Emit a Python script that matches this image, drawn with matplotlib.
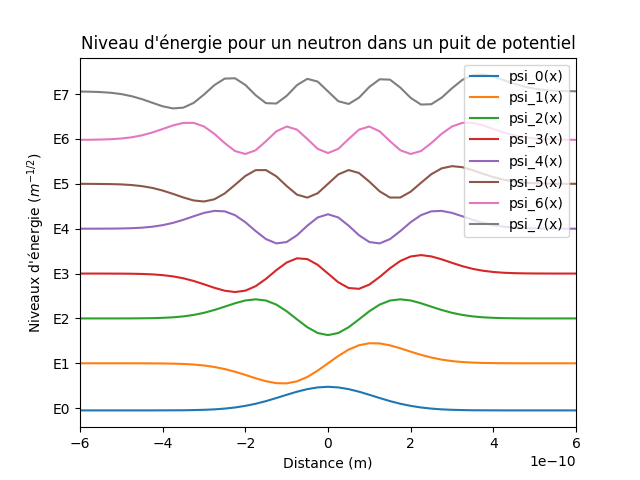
import numpy as np
import matplotlib
matplotlib.use("Agg")
import matplotlib.pyplot as plt

# positive half of the distance axis (units of 1e-10 m), step 0.25
x_half = [0.00, 0.25, 0.50, 0.75, 1.00, 1.25, 1.50, 1.75, 2.00, 2.25, 2.50, 2.75, 3.00,
          3.25, 3.50, 3.75, 4.00, 4.25, 4.50, 4.75, 5.00, 5.25, 5.50, 5.75, 6.00]

psi_0 = [.526, .512, .474, .417, .348, .276, .207, .148, .101, .065, .040, .023, .013,
         .007, .003, .002, .001, 0, 0, 0, 0, 0, 0, 0, 0]
psi_1 = [0, .164, .305, .402, .447, .443, .400, .334, .259, .188, .128, .082, .049,
         .028, .015, .008, .004, .002, .001, 0, 0, 0, 0, 0, 0]
psi_2 = [-.372, -.325, -.196, -.021, .160, .308, .399, .426, .400, .338, .262, .188, .125,
         .078, .045, .025, .013, .006, .003, .001, 0, 0, 0, 0, 0]
psi_3 = [0, -.195, -.322, -.340, -.246, -.076, .118, .281, .381, .412, .382, .317, .239,
         .165, .105, .063, .035, .018, .009, .004, .002, .001, 0, 0, 0]
psi_4 = [.322, .250, .067, -.146, -.297, -.328, -.232, -.053, .145, .302, .387, .397, .352,
         .277, .198, .130, .079, .044, .023, .011, .005, .002, .001, 0, 0]
psi_5 = [0, .210, .307, .241, .049, -.168, -.306, -.305, -.175, .023, .215, .345, .394,
         .371, .304, .224, .150, .091, .052, .027, .013, .006, .003, .001, 0]
psi_6 = [-.294, -.201, .020, .228, .297, .189, -.029, -.232, -.315, -.249, -.071, .135, .298,
         .379, .378, .322, .242, .164, .101, .057, .030, .015, .007, .003, .001]
psi_7 = [0, -.219, -.280, -.140, .099, .270, .262, .085, -.144, -.293, -.285, -.139, .070,
         .256, .362, .379, .332, .253, .173, .107, .060, .031, .015, .007, .003]

psis = [psi_0, psi_1, psi_2, psi_3, psi_4, psi_5, psi_6, psi_7]
baselines = [-0.05, 0.0, 0.0, 0.0, 0.0, 0.0, -0.02, 0.06]
tick_labels = ["E0", "E1", "E2", "E3", "E4", "E5", "E6", "E7"]

fig, ax = plt.subplots(figsize=(6.4, 4.8), dpi=100)
xh = np.array(x_half)
x_full = np.concatenate([-xh[:0:-1], xh]) * 1e-10
for n, (p, b) in enumerate(zip(psis, baselines)):
    p = np.array(p)
    sign = (-1) ** n
    y = np.concatenate([sign * p[:0:-1], p]) + n + b
    ax.plot(x_full, y, label=f"psi_{n}(x)")

ax.set_xlim(-6e-10, 6e-10)
ax.set_yticks(range(8))
ax.set_yticklabels(tick_labels)
ax.set_xlabel("Distance (m)")
ax.set_ylabel("Niveaux d'énergie ($m^{-1/2}$)")
ax.set_title("Niveau d'énergie pour un neutron dans un puit de potentiel")
ax.legend(loc="upper right")
fig.savefig("out.png")
